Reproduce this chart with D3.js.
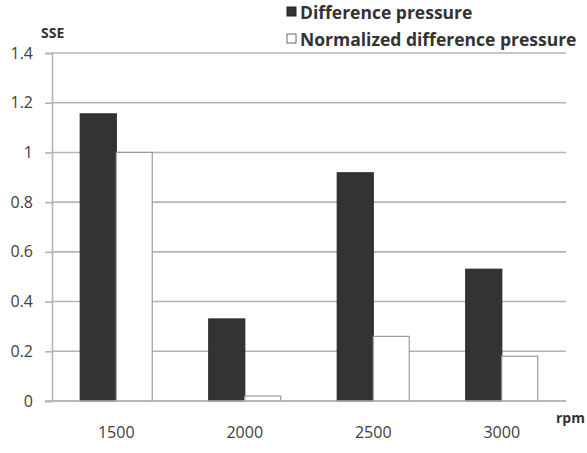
<!DOCTYPE html>
<html>
<head>
<meta charset="utf-8">
<script src="https://cdn.jsdelivr.net/npm/d3@7"></script>
<style>
  body { margin: 0; background: #fff; }
  svg { display: block; font-family: "Open Sans", sans-serif; }
</style>
</head>
<body>
<script>
var categories = ["1500", "2000", "2500", "3000"];
var seriesNames = ["Difference pressure", "Normalized difference pressure"];
var diffPressure = [1.155, 0.33, 0.918, 0.53];
var normDiffPressure = [1.0, 0.02, 0.26, 0.18];
var yTicks = [0, 0.2, 0.4, 0.6, 0.8, 1, 1.2, 1.4];

var width = 587, height = 453;
var plotLeft = 52, plotRight = 566, plotTop = 53, plotBottom = 401;

var svg = d3.select("body").append("svg")
  .attr("width", width)
  .attr("height", height);

var x0 = d3.scaleBand()
  .domain(categories)
  .range([plotLeft, plotRight])
  .paddingInner(0.44)
  .paddingOuter(0.22);

var x1 = d3.scaleBand()
  .domain(seriesNames)
  .range([0, x0.bandwidth()]);

var y = d3.scaleLinear()
  .domain([0, 1.4])
  .range([plotBottom, plotTop]);

var fills = ["#333333", "#ffffff"];
var strokes = ["#2a2a2a", "#9a9a9a"];

// gridlines
svg.append("g")
  .attr("class", "grid")
  .selectAll("line")
  .data(yTicks)
  .enter()
  .append("line")
  .attr("x1", plotLeft)
  .attr("x2", plotRight)
  .attr("y1", function(d){ return y(d); })
  .attr("y2", function(d){ return y(d); })
  .attr("stroke", "#b4b4b4")
  .attr("stroke-width", 1.6);

// y axis
var yAxis = d3.axisLeft(y)
  .tickValues(yTicks)
  .tickSize(7)
  .tickPadding(12)
  .tickFormat(function(d){ return String(+d.toFixed(1)); });

var ya = svg.append("g")
  .attr("transform", "translate(" + plotLeft + ",0)")
  .call(yAxis);
ya.select(".domain").attr("stroke", "#b4b4b4").attr("stroke-width", 1.6);
ya.selectAll(".tick line").attr("stroke", "#b4b4b4").attr("stroke-width", 1.6);
ya.selectAll(".tick text")
  .attr("fill", "#404040")
  .style("font-size", "16px")
  .style("font-family", "Open Sans, sans-serif");

// bars
var rows = categories.map(function(c, i){
  return { cat: c, vals: [diffPressure[i], normDiffPressure[i]] };
});

var groups = svg.selectAll(".cat")
  .data(rows)
  .enter()
  .append("g")
  .attr("class", "cat")
  .attr("transform", function(d){ return "translate(" + x0(d.cat) + ",0)"; });

groups.selectAll("rect")
  .data(function(d){ return d.vals.map(function(v, j){ return { s: j, v: v }; }); })
  .enter()
  .append("rect")
  .attr("x", function(d){ return x1(seriesNames[d.s]); })
  .attr("width", x1.bandwidth())
  .attr("y", function(d){ return y(d.v); })
  .attr("height", function(d){ return plotBottom - y(d.v); })
  .attr("fill", function(d){ return fills[d.s]; })
  .attr("stroke", function(d){ return strokes[d.s]; })
  .attr("stroke-width", 1.2);

// baseline
svg.append("line")
  .attr("x1", plotLeft - 7).attr("x2", plotRight)
  .attr("y1", plotBottom).attr("y2", plotBottom)
  .attr("stroke", "#b4b4b4").attr("stroke-width", 1.6);

// x labels
var xAxis = d3.axisBottom(x0).tickSize(0).tickPadding(26);
var xa = svg.append("g")
  .attr("transform", "translate(0," + plotBottom + ")")
  .call(xAxis);
xa.select(".domain").remove();
xa.selectAll(".tick text")
  .attr("fill", "#404040")
  .style("font-size", "16px")
  .style("font-family", "Open Sans, sans-serif");

// axis titles
svg.append("text")
  .attr("x", 41).attr("y", 38)
  .attr("fill", "#333")
  .style("font-size", "14px")
  .style("font-weight", "bold")
  .text("SSE");

svg.append("text")
  .attr("x", 556).attr("y", 423)
  .attr("fill", "#333")
  .style("font-size", "14px")
  .style("font-weight", "bold")
  .text("rpm");

// legend
var legend = svg.append("g").attr("transform", "translate(286,1)");
seriesNames.forEach(function(name, i){
  var g = legend.append("g").attr("transform", "translate(0," + (i * 27) + ")");
  g.append("rect")
    .attr("x", 1).attr("y", 6)
    .attr("width", 9).attr("height", 9)
    .attr("fill", fills[i])
    .attr("stroke", i === 0 ? "#222" : "#666")
    .attr("stroke-width", 1);
  g.append("text")
    .attr("x", 14).attr("y", 18)
    .attr("fill", "#333")
    .style("font-size", "17.5px")
    .style("font-weight", "bold")
    .text(name);
});
</script>
</body>
</html>
